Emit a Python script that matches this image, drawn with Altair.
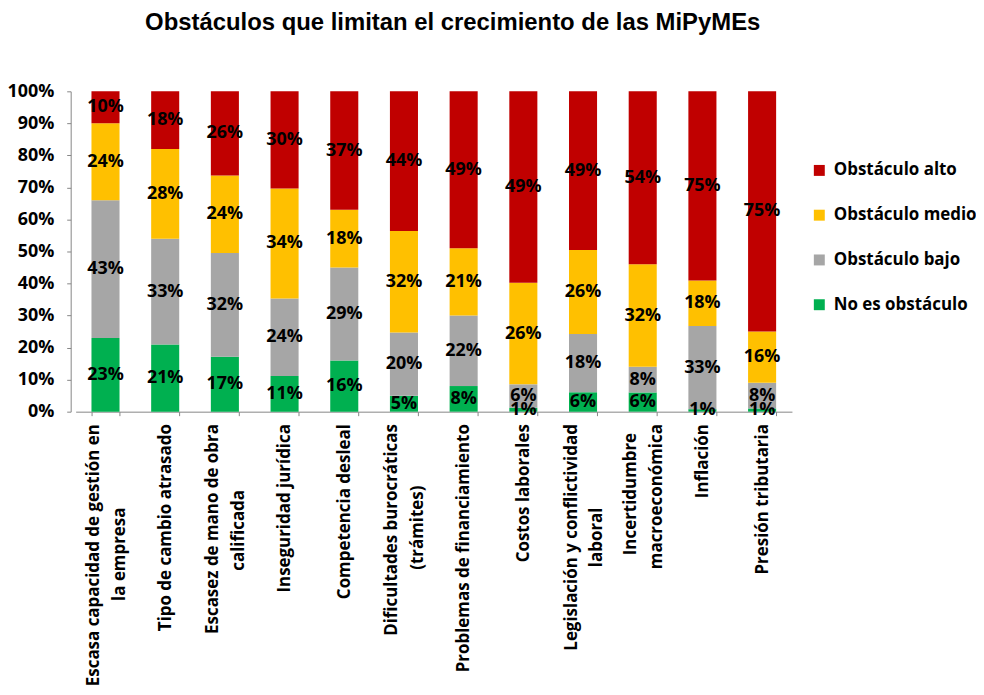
import altair as alt
import pandas as pd

# ---- data ----
category_lines = [
    ["Escasa capacidad de gestión en", "la empresa"],
    ["Tipo de cambio atrasado"],
    ["Escasez de mano de obra", "calificada"],
    ["Inseguridad jurídica"],
    ["Competencia desleal"],
    ["Dificultades burocráticas", "(trámites)"],
    ["Problemas de financiamiento"],
    ["Costos laborales"],
    ["Legislación y conflictividad", "laboral"],
    ["Incertidumbre", "macroeconómica"],
    ["Inflación"],
    ["Presión tributaria"],
]
series = ["No es obstáculo", "Obstáculo bajo", "Obstáculo medio", "Obstáculo alto"]
no_es = [23, 21, 17, 11, 16, 5, 8, 1, 6, 6, 1, 1]
bajo = [43, 33, 32, 24, 29, 20, 22, 6, 18, 8, 33, 8]
medio = [24, 28, 24, 34, 18, 32, 21, 26, 26, 32, 18, 16]
alto = [10, 18, 26, 30, 37, 44, 49, 49, 49, 54, 75, 75]
legend_order = ["Obstáculo alto", "Obstáculo medio", "Obstáculo bajo", "No es obstáculo"]
legend_colors = ["#C00000", "#FFC000", "#A6A6A6", "#00B050"]
y_ticks = [0, 0.1, 0.2, 0.3, 0.4, 0.5, 0.6, 0.7, 0.8, 0.9, 1.0]

FONT = "Open Sans"
XLAB_FS = 17
NUM_FS = 18
LEG_FS = 17

# approximate glyph widths (em) to centre the lines of two-line labels
_w = {"i": .27, "l": .27, "j": .27, "í": .27, "f": .36, "t": .40, "r": .41,
      "(": .33, ")": .33, " ": .26, "m": .92, "s": .49, "c": .51, "y": .55,
      "g": .57, "a": .58, "e": .58}
def est_width(s):
    tot = 0
    for ch in s:
        if ch in _w:
            tot += _w[ch]
        elif ch.isupper():
            tot += .64
        else:
            tot += .62
    return tot * XLAB_FS

NBSP_W = 0.26 * XLAB_FS

def make_label(lines):
    if len(lines) == 1:
        return lines[0]
    w = [est_width(l) for l in lines]
    m = max(w)
    out = []
    for l, wi in zip(lines, w):
        n = int(round((m - wi) / 2 / NBSP_W))
        # trailing zero-width char keeps the padding from being trimmed
        out.append(l + "\u00a0" * n + ("\u200b" if n else ""))
    return "|".join(out)

cat_keys = [make_label(l) for l in category_lines]

rows = []
for i, c in enumerate(cat_keys):
    for j, (s, vals) in enumerate(zip(series, [no_es, bajo, medio, alto])):
        rows.append(dict(cat=c, serie=s, ord=j, v=vals[i], lab=f"{vals[i]}%"))
df = pd.DataFrame(rows)

base = alt.Chart(df).transform_stack(
    stack="v", groupby=["cat"], as_=["y0", "y1"], offset="normalize",
    sort=[alt.SortField("ord", order="ascending")]
).transform_calculate(mid="(datum.y0 + datum.y1) / 2")

axis_color = "#868686"
x_axis = alt.Axis(
    labelAngle=-90, labelAlign="right", labelBaseline="middle",
    labelExpr="split(datum.label, '|')", labelFont=FONT, labelFontSize=XLAB_FS,
    labelFontWeight="bold", labelColor="black", labelLineHeight=26,
    labelOffset=alt.ConditionalAxisNumber(
        condition={"test": "indexof(datum.label, '|') >= 0", "value": -12},
        value=0,
    ),
    labelPadding=8, tickBand="extent", tickSize=4, tickColor=axis_color,
    domainColor=axis_color, labelLimit=400, grid=False, labelOverlap=False,
)
y_axis = alt.Axis(
    format="%", values=y_ticks, grid=False,
    labelFont=FONT, labelFontSize=NUM_FS, labelFontWeight="bold",
    labelColor="black", tickSize=4, tickColor=axis_color,
    domainColor=axis_color, labelPadding=13, offset=5,
    labelOverlap=False,
)
x_scale = alt.Scale(paddingInner=0.53, paddingOuter=0.265)
y_scale = alt.Scale(domain=[0, 1], nice=False)

bars = base.mark_bar().encode(
    x=alt.X("cat:N", sort=cat_keys, title=None, scale=x_scale, axis=x_axis),
    y=alt.Y("y0:Q", scale=y_scale, title=None, axis=y_axis),
    y2="y1:Q",
    color=alt.Color(
        "serie:N",
        scale=alt.Scale(domain=legend_order, range=legend_colors),
        legend=alt.Legend(
            title=None, orient="none", legendX=739, legendY=71,
            symbolType="square", symbolSize=121, symbolStrokeWidth=0,
            labelFont=FONT, labelFontSize=LEG_FS, labelFontWeight="bold",
            labelColor="black", rowPadding=27, labelOffset=6, labelLimit=300,
        ),
    ),
)

text = base.mark_text(
    font=FONT, fontSize=NUM_FS, fontWeight="bold", color="black"
).encode(
    x=alt.X("cat:N", sort=cat_keys, title=None, scale=x_scale, axis=x_axis),
    y=alt.Y("mid:Q", scale=y_scale, title=None, axis=y_axis),
    text="lab:N",
)

chart = alt.layer(bars, text).properties(
    width=720, height=322,
    autosize="none",
    padding={"left": 68, "top": 82, "right": 185, "bottom": 275},
    title=alt.TitleParams(
        "Obstáculos que limitan el crecimiento de las MiPyMEs",
        font="Liberation Sans", fontSize=24, fontWeight="bold", color="black",
        anchor="middle", dx=19, offset=48,
    ),
).configure_view(stroke=None)

chart.save("out.html", embed_options={"renderer": "svg", "actions": False})
